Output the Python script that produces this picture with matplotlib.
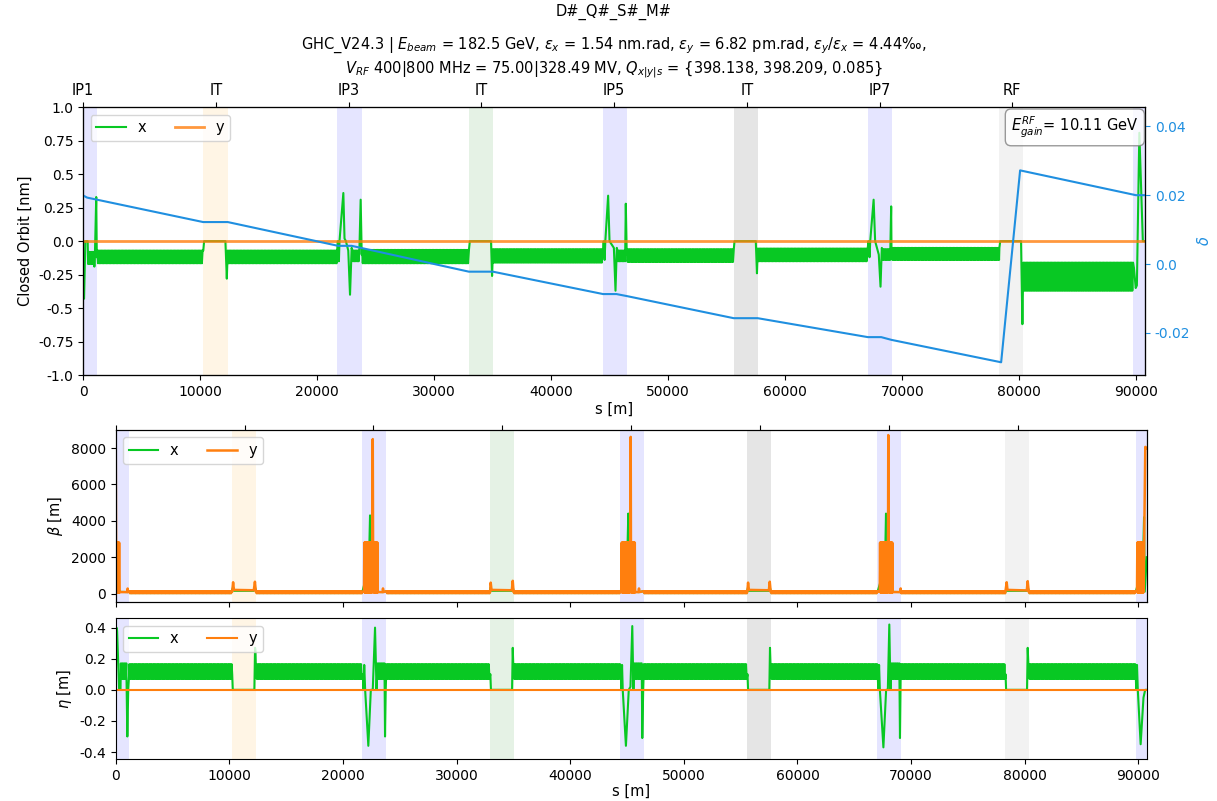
import numpy as np
import matplotlib
matplotlib.use('Agg')
import matplotlib.pyplot as plt

plt.rcParams['axes.unicode_minus'] = False
plt.rcParams['font.size'] = 10

# ring layout
C = 90740.0
sec_pos = [0, 11342, 22685, 34027, 45370, 56712, 68055, 79397]
sec_names = ['IP1', 'IT', 'IP3', 'IT', 'IP5', 'IT', 'IP7', 'RF']
s_ticks = [0, 10000, 20000, 30000, 40000, 50000, 60000, 70000, 80000, 90000]

# shaded straight sections
span_s0 = [-1000, 10250, 21690, 32960, 44420, 55590, 67040, 78300, 89760]
span_s1 = [1180, 12330, 23820, 35010, 46460, 57640, 69080, 80350, 91000]
span_col = ['blue', 'orange', 'blue', 'green', 'blue', 'black', 'blue', 'gray', 'blue']

# arcs (periodic FODO cells)
arc_s0 = [1200, 12350, 23830, 35020, 46470, 57650, 69090, 80360]
arc_s1 = [10240, 21680, 32950, 44410, 55580, 67030, 78290, 89750]
orb_lo = [-0.165, -0.165, -0.165, -0.16, -0.155, -0.15, -0.14, -0.37]
orb_hi = [-0.07, -0.07, -0.065, -0.06, -0.06, -0.055, -0.05, -0.16]
eta_lo = [0.07, 0.07, 0.07, 0.07, 0.07, 0.07, 0.07, 0.07]
eta_hi = [0.165, 0.165, 0.165, 0.165, 0.165, 0.165, 0.165, 0.165]
beta_lo = [20, 20, 20, 20, 20, 20, 20, 20]
beta_hi = [130, 130, 130, 130, 130, 130, 130, 130]

# closed orbit x [nm] in the straights
orbx_pts = [(0, -0.43), (70, -0.43), (180, 0.0), (380, 0.0), (410, -0.17),
            (950, -0.19), (1000, -0.09), (1110, 0.33), (1160, -0.12),
            (10260, -0.07), (10330, 0.0), (12150, 0.0), (12270, -0.28), (12330, -0.12),
            (21700, -0.07), (21760, 0.0), (21850, -0.15), (21900, 0.0), (22230, 0.36),
            (22330, 0.02), (22450, 0.0), (22650, -0.07), (22800, -0.40), (22940, -0.05),
            (23710, 0.31), (23800, -0.1),
            (32970, -0.06), (33040, 0.0), (34850, 0.0), (34940, -0.26), (35000, -0.12),
            (44430, -0.06), (44480, 0.0), (44560, -0.14), (44620, 0.0), (44860, 0.34),
            (44980, 0.0), (45350, -0.05), (45490, -0.37), (45600, -0.05),
            (46370, 0.28), (46450, -0.1),
            (55600, -0.06), (55660, 0.0), (57480, 0.0), (57580, -0.24), (57640, -0.1),
            (67050, -0.05), (67110, 0.0), (67200, -0.12), (67260, 0.0), (67550, 0.31),
            (67680, 0.0), (67990, -0.1), (68140, -0.34), (68250, -0.05),
            (69050, 0.26), (69080, -0.1),
            (78300, -0.05), (78370, 0.0), (80150, 0.0), (80265, -0.62), (80340, -0.2),
            (89800, -0.2), (89950, -0.35), (90050, -0.33), (90260, 0.81), (90560, 0.0),
            (90740, 0.0)]
orbx_mini = [(430, 920, -0.17, -0.08), (23000, 23650, -0.15, -0.07),
             (45650, 46320, -0.15, -0.07), (68300, 69000, -0.14, -0.06)]

# energy deviation delta along the ring
delta_s = [0, 330, 10250, 12350, 21780, 22940, 32960, 35010, 44430, 45570, 46480,
           55590, 57640, 67060, 68200, 69080, 78450, 80070, 89970, 90740]
delta_v = [0.0199, 0.0193, 0.0122, 0.0122, 0.0053, 0.0053, -0.0022, -0.0022,
           -0.0087, -0.0087, -0.0093, -0.0157, -0.0157, -0.0212, -0.0212, -0.0220,
           -0.0285, 0.0272, 0.0200, 0.0200]

# beta functions [m] in the straights
bety_pts = [(0, 8350), (40, 200),
            (340, 80), (1020, 80), (1050, 275), (1080, 80),
            (10250, 100), (10330, 620), (10400, 200), (12150, 180), (12250, 650), (12330, 100),
            (21700, 80), (21850, 150), (22570, 3050), (22620, 8500), (22660, 200),
            (23100, 80), (23490, 80), (23520, 280), (23560, 80),
            (32960, 100), (33000, 600), (33070, 200), (34860, 180), (34940, 700), (35010, 100),
            (44420, 80), (44500, 150), (45300, 3300), (45320, 8620), (45350, 200),
            (45750, 80), (46020, 80), (46050, 280), (46080, 80),
            (55590, 100), (55650, 600), (55720, 200), (57480, 180), (57560, 650), (57640, 100),
            (67040, 80), (67240, 150), (67970, 3200), (67990, 8720), (68020, 200),
            (68420, 80), (69050, 80), (69080, 280), (69110, 80),
            (78300, 100), (78410, 620), (78480, 200), (80180, 170), (80260, 680), (80350, 100),
            (89760, 80), (89880, 150), (90460, 200), (90610, 8070), (90740, 8000)]
bety_block = [(50, 330), (21880, 22560), (22680, 23060), (44530, 45280), (45380, 45710),
              (67270, 67950), (68040, 68380), (89910, 90440)]
betx_pts = [(0, 1000), (60, 100), (1040, 80),
            (10330, 350), (10400, 150), (12150, 150), (12250, 350),
            (21700, 80), (22280, 1500), (22380, 4300), (22420, 100), (23500, 80),
            (33000, 350), (33070, 150), (34860, 150), (34940, 350),
            (44420, 80), (45000, 1500), (45110, 4400), (45150, 100), (46040, 80),
            (55650, 350), (55720, 150), (57480, 150), (57560, 350),
            (67040, 80), (67700, 1500), (67790, 4400), (67830, 100), (69070, 80),
            (78410, 350), (78480, 150), (80180, 150), (80260, 350),
            (89760, 80), (90400, 1500), (90500, 4200), (90560, 100), (90740, 2000)]

# horizontal dispersion [m] in the straights
etax_pts = [(0, 0.0), (60, 0.40), (120, 0.38), (300, 0.0), (420, 0.0),
            (930, 0.17), (960, 0.0), (1020, -0.30), (1100, 0.0), (1180, 0.1),
            (10250, 0.1), (10300, 0.0), (12200, 0.0), (12260, 0.27), (12300, 0.25), (12340, 0.12),
            (21760, 0.1), (21800, 0.0), (21870, 0.16), (21950, 0.0), (22230, -0.36),
            (22450, 0.0), (22620, 0.0), (22820, 0.40), (22950, 0.0),
            (23650, 0.17), (23700, -0.30), (23760, 0.0), (23800, 0.1),
            (32970, 0.1), (33020, 0.0), (34880, 0.0), (34940, 0.27), (35000, 0.13),
            (44450, 0.1), (44500, 0.0), (44560, 0.16), (44620, 0.0), (44900, -0.36),
            (45150, 0.0), (45300, 0.02), (45460, 0.41), (45560, 0.0),
            (46290, 0.17), (46340, -0.31), (46420, 0.0), (46460, 0.1),
            (55600, 0.1), (55650, 0.0), (57520, 0.0), (57580, 0.27), (57640, 0.13),
            (67060, 0.1), (67110, 0.0), (67180, 0.16), (67250, 0.0), (67560, -0.37),
            (67800, 0.0), (67950, 0.0), (68080, 0.42), (68180, 0.0),
            (68960, 0.17), (69020, -0.31), (69070, 0.0), (69085, 0.1),
            (78310, 0.1), (78360, 0.0), (80200, 0.0), (80260, 0.27), (80340, 0.13),
            (89770, 0.1), (89810, 0.0), (89880, 0.16), (89950, 0.0), (90200, -0.35),
            (90450, -0.05), (90600, 0.0), (90740, 0.0)]
etax_mini = [(450, 900, 0.07, 0.17), (23050, 23600, 0.07, 0.17),
             (45620, 46250, 0.07, 0.17), (68230, 68920, 0.07, 0.17)]

green = '#08c823'
orange = '#ff7f0e'
blue = '#1f8fe0'


def series(points, bands, step=60):
    s = [p[0] for p in points]
    v = [p[1] for p in points]
    for a, b, lo, hi in bands:
        ss = np.arange(a, b, step)
        s += list(ss)
        v += list(np.where(np.arange(len(ss)) % 2 == 0, hi, lo))
    s = np.array(s, float)
    v = np.array(v, float)
    i = np.argsort(s, kind='stable')
    return s[i], v[i]


arcs_orb = list(zip(arc_s0, arc_s1, orb_lo, orb_hi))
arcs_eta = list(zip(arc_s0, arc_s1, eta_lo, eta_hi))
arcs_beta = list(zip(arc_s0, arc_s1, beta_lo, beta_hi))

s_orb, v_orb = series(orbx_pts, arcs_orb + orbx_mini)
s_eta, v_eta = series(etax_pts, arcs_eta + etax_mini)
s_bx, v_bx = series(betx_pts, arcs_beta)
s_by, v_by = series(bety_pts, arcs_beta)
s_blk, v_blk = series([], [(a, b, 60, 2800) for a, b in bety_block], step=25)
s_by = np.concatenate([s_by, s_blk])
v_by = np.concatenate([v_by, v_blk])
k = np.argsort(s_by, kind='stable')
s_by, v_by = s_by[k], v_by[k]

fig = plt.figure(figsize=(12.17, 8.01), dpi=100)
ax1 = fig.add_axes([0.0684, 0.5318, 0.8724, 0.3342])
ax2 = fig.add_axes([0.0951, 0.2488, 0.8472, 0.2144])
ax3 = fig.add_axes([0.0951, 0.0524, 0.8472, 0.1757])


def shade(ax):
    for a, b, c in zip(span_s0, span_s1, span_col):
        ax.axvspan(a, b, color=c, alpha=0.1, lw=0, zorder=0)


# closed orbit panel
shade(ax1)
ax1.plot(s_orb, v_orb, color=green, lw=1.5, label='x')
ax1.plot([0, C], [0, 0], color=orange, lw=2, alpha=0.8, label='y')
ax1.set_xlim(0, C)
ax1.set_xticks(s_ticks)
ax1.set_ylim(-1, 1)
yt = [-1, -0.75, -0.5, -0.25, 0, 0.25, 0.5, 0.75, 1]
ax1.set_yticks(yt)
ax1.set_yticklabels(['-1.0', '-0.75', '-0.5', '-0.25', '0.0', '0.25', '0.5', '0.75', '1.0'])
ax1.set_ylabel('Closed Orbit [nm]', fontsize=10.5)
ax1.set_xlabel('s [m]', fontsize=10.5, labelpad=2)
ax1.legend(loc='upper left', ncol=2, fontsize=10.5)

axt = ax1.twiny()
axt.set_xlim(0, C)
axt.set_xticks(sec_pos)
axt.set_xticklabels(sec_names, fontsize=10.5)

axd = ax1.twinx()
axd.plot(delta_s, delta_v, color=blue, lw=1.5)
axd.set_ylim(-0.0322, 0.0455)
axd.set_yticks([-0.02, 0, 0.02, 0.04])
axd.set_yticklabels(['-0.02', '0.0', '0.02', '0.04'])
axd.tick_params(axis='y', colors=blue)
axd.set_ylabel(r'$\delta$', color=blue, fontsize=10.5)
axd.text(0.994, 0.972, r'$E^{RF}_{gain}$= 10.11 GeV', transform=axd.transAxes,
         ha='right', va='top', fontsize=10.5,
         bbox=dict(boxstyle='round,pad=0.4', fc='white', ec='gray', alpha=0.8))

# beta panel
shade(ax2)
ax2.plot(s_bx, v_bx, color=green, lw=1.5, label='x')
ax2.plot(s_by, v_by, color=orange, lw=1.8, label='y')
ax2.set_xlim(0, C)
ax2.set_xticks(s_ticks)
ax2.set_ylim(-450, 9000)
ax2.tick_params(axis='x', labelbottom=False)
ax2.set_ylabel(r'$\beta$ [m]', fontsize=10.5)
ax2.legend(loc='upper left', ncol=2, fontsize=10.5)
ax2t = ax2.twiny()
ax2t.set_xlim(0, C)
ax2t.set_xticks(sec_pos)
ax2t.set_xticklabels([])

# dispersion panel
shade(ax3)
ax3.plot(s_eta, v_eta, color=green, lw=1.5, label='x')
ax3.plot([0, C], [0, 0], color=orange, lw=1.5, label='y')
ax3.set_xlim(0, C)
ax3.set_xticks(s_ticks)
ax3.set_ylim(-0.445, 0.46)
ax3.set_yticks([-0.4, -0.2, 0, 0.2, 0.4])
ax3.set_ylabel(r'$\eta$ [m]', fontsize=10.5)
ax3.set_xlabel('s [m]', fontsize=10.5, labelpad=1)
ax3.legend(loc='upper left', ncol=2, fontsize=10.5)

fig.text(614 / 1217, 1 - 12 / 801, 'D#_Q#_S#_M#', ha='center', va='center', fontsize=10.5)
fig.text(614 / 1217, 1 - 58 / 801,
         'GHC_V24.3 | $E_{beam}$ = 182.5 GeV, $\\epsilon_x$ = 1.54 nm.rad, '
         '$\\epsilon_y$ = 6.82 pm.rad, $\\epsilon_y/\\epsilon_x$ = 4.44\u2030,\n'
         '$V_{RF}$ 400|800 MHz = 75.00|328.49 MV, $Q_{x|y|s}$ = {398.138, 398.209, 0.085}',
         ha='center', va='center', fontsize=10.5)

fig.savefig('out.png', dpi=100)
